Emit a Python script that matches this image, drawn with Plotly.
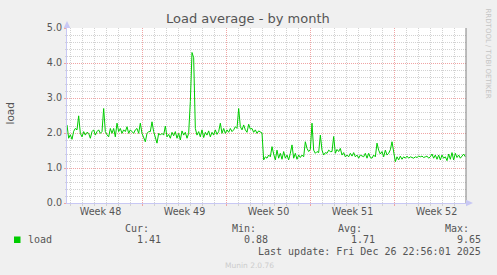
import plotly.graph_objects as go

# ---------------- data ----------------
series_name = "load"
start_time = "2025-11-24 17:00:00"
step_ms = 12_000_000  # 3h20m between samples
load_values = [
    2.23, 1.85, 1.95, 1.82, 2.05, 2.13, 2.09, 2.49, 1.99, 1.89,
    2.04, 1.94, 2.02, 1.99, 1.85, 2.04, 2.09, 1.94, 2.04, 2.09,
    1.99, 2.04, 2.70, 2.04, 1.95, 1.89, 2.13, 1.99, 2.13, 1.89,
    2.28, 2.04, 2.13, 1.99, 2.09, 2.04, 2.18, 1.99, 2.09, 2.04,
    1.99, 2.09, 2.13, 1.99, 2.28, 1.99, 1.89, 1.75, 1.99, 2.04,
    2.04, 2.32, 2.04, 1.85, 1.71, 1.99, 1.94, 1.99, 1.94, 2.20,
    1.89, 1.96, 1.85, 2.02, 1.92, 2.04, 1.85, 1.99, 1.80, 2.06,
    1.94, 2.02, 1.85, 1.99, 2.90, 4.30, 4.15, 2.13, 1.94, 2.04,
    1.89, 2.09, 1.87, 2.02, 1.94, 2.06, 1.89, 2.02, 1.94, 2.09,
    1.96, 2.04, 2.28, 1.99, 2.13, 1.99, 2.09, 2.02, 2.13, 2.04,
    2.09, 2.18, 2.13, 2.70, 2.18, 2.09, 2.23, 2.09, 2.02, 2.25,
    2.11, 2.13, 2.02, 2.09, 1.99, 2.06, 2.02, 2.00, 1.23, 1.32,
    1.28, 1.37, 1.32, 1.61, 1.40, 1.23, 1.51, 1.28, 1.42, 1.25,
    1.47, 1.28, 1.37, 1.23, 1.42, 1.66, 1.28, 1.42, 1.25, 1.37,
    1.30, 1.37, 1.32, 1.75, 1.56, 1.47, 1.53, 2.28, 1.51, 1.42,
    1.47, 1.44, 1.94, 1.51, 1.37, 1.44, 1.42, 1.51, 1.47, 1.47,
    1.90, 1.42, 1.53, 1.47, 1.56, 1.37, 1.44, 1.32, 1.37, 1.32,
    1.42, 1.34, 1.44, 1.32, 1.37, 1.28, 1.37, 1.35, 1.32, 1.42,
    1.28, 1.42, 1.30, 1.28, 1.37, 1.32, 1.71, 1.51, 1.40, 1.47,
    1.32, 1.51, 1.37, 1.42, 1.52, 1.75, 1.42, 1.18, 1.32, 1.23,
    1.34, 1.25, 1.32, 1.28, 1.34, 1.28, 1.32, 1.31, 1.28, 1.32,
    1.30, 1.34, 1.32, 1.34, 1.30, 1.32, 1.34, 1.28, 1.32, 1.40,
    1.28, 1.37, 1.25, 1.37, 1.23, 1.37, 1.28, 1.32, 1.21, 1.40,
    1.25, 1.44, 1.23, 1.42, 1.30, 1.37, 1.28, 1.34, 1.40, 1.32,
]
x_range = ["2025-11-24 17:00:00", "2025-12-27 23:00:00"]
week_start = "2025-11-24"
y_range = [0, 5]
stat_labels = ["Cur:", "Min:", "Avg:", "Max:"]
stat_values = ["1.41", "0.88", "1.71", "9.65"]
title_text = "Load average - by month"
y_title = "load"
last_update = "Last update: Fri Dec 26 22:56:01 2025"
side_text = "RRDTOOL / TOBI OETIKER"
footer_text = "Munin 2.0.76"

# ---------------- layout geometry ----------------
W, H = 497, 275
L, R, T, B = 67, 31, 28, 72
PW, PH = W - L - R, H - T - B


def px(x):
    return (x - L) / PW


def py(y):
    return (H - B - y) / PH


LINE_GREEN = "#00CC00"
AXIS_COL = "#C8C8F4"
MAJOR_GRID = "#F0A4A4"
MINOR_GRID = "#D2D2D2"
TEXT_COL = "#555555"
SANS = "DejaVu Sans"
MONO = "DejaVu Sans Mono"
DAY_MS = 86_400_000

fig = go.Figure()
fig.add_trace(go.Scatter(
    x0=start_time, dx=step_ms, y=load_values,
    mode="lines", name=series_name,
    line=dict(color=LINE_GREEN, width=1),
    showlegend=False, hoverinfo="skip",
))

fig.update_layout(
    width=W, height=H,
    margin=dict(l=L, r=R, t=T, b=B, pad=0),
    paper_bgcolor="#F0F0F0",
    plot_bgcolor="#FFFFFF",
    showlegend=False,
    xaxis=dict(
        type="date", range=x_range, autorange=False,
        tickmode="linear", tick0=week_start, dtick=7 * DAY_MS,
        ticklabelmode="period", tickformat="Week %V",
        showgrid=True, gridcolor=MAJOR_GRID, griddash="1px,1px", gridwidth=1,
        showline=True, linecolor=AXIS_COL, linewidth=1,
        ticks="outside", ticklen=2, tickcolor=MAJOR_GRID,
        ticklabelstandoff=-3,
        tickfont=dict(family=SANS, size=9.6, color=TEXT_COL),
        zeroline=False,
        minor=dict(tickmode="linear", tick0=week_start, dtick=DAY_MS,
                   showgrid=True, gridcolor=MINOR_GRID, griddash="1px,1px",
                   ticks="outside", ticklen=2, tickcolor=MINOR_GRID),
    ),
    yaxis=dict(
        range=y_range, autorange=False,
        tickmode="linear", tick0=0, dtick=1, tickformat=".1f",
        showgrid=True, gridcolor=MAJOR_GRID, griddash="1px,1px", gridwidth=1,
        showline=True, linecolor=AXIS_COL, linewidth=1,
        ticks="outside", ticklen=2, tickcolor=MAJOR_GRID,
        tickfont=dict(family=SANS, size=9.6, color=TEXT_COL),
        zeroline=False,
        minor=dict(tickmode="linear", tick0=0, dtick=0.2,
                   showgrid=True, gridcolor=MINOR_GRID, griddash="1px,1px",
                   ticks="outside", ticklen=1, tickcolor=MINOR_GRID),
    ),
)

shapes = []
# right border line
shapes.append(dict(type="line", xref="paper", yref="paper", x0=1, x1=1, y0=0, y1=1,
                   line=dict(color="#808080", width=1)))
# axis arrows
shapes.append(dict(type="path", xref="paper", yref="paper",
                   path=f"M {px(63.7)} {py(28)} L {px(67)} {py(21)} L {px(70.3)} {py(28)} Z",
                   fillcolor=AXIS_COL, line=dict(width=0)))
shapes.append(dict(type="path", xref="paper", yref="paper",
                   path=f"M {px(466)} {py(199.7)} L {px(473)} {py(203)} L {px(466)} {py(206.3)} Z",
                   fillcolor=AXIS_COL, line=dict(width=0)))
# legend swatch
shapes.append(dict(type="rect", xref="paper", yref="paper",
                   x0=px(14), x1=px(20.5), y0=py(236.5), y1=py(243),
                   fillcolor=LINE_GREEN, line=dict(width=0)))
fig.update_layout(shapes=shapes)

ann = []
ann.append(dict(text=title_text, x=px(248), y=py(18.5), xref="paper", yref="paper",
                xanchor="center", yanchor="middle", showarrow=False,
                font=dict(family=SANS, size=13, color=TEXT_COL)))
ann.append(dict(text=y_title, x=px(9.5), y=py(114), xref="paper", yref="paper",
                xanchor="center", yanchor="middle", showarrow=False, textangle=-90,
                font=dict(family=SANS, size=10.5, color=TEXT_COL)))
ann.append(dict(text=side_text, x=px(488), y=py(53.5), xref="paper", yref="paper",
                xanchor="center", yanchor="middle", showarrow=False, textangle=90,
                font=dict(family=SANS, size=7, color="#C4C4C4")))
ann.append(dict(text=series_name, x=px(26), y=py(239.5), xref="paper", yref="paper",
                xanchor="left", yanchor="middle", showarrow=False,
                font=dict(family=MONO, size=10, color=TEXT_COL)))
label_right = [151, 257.5, 364, 471]
value_right = [163, 270, 376.5, 483]
for lab, val, lx, vx in zip(stat_labels, stat_values, label_right, value_right):
    ann.append(dict(text=lab, x=px(lx), y=py(228), xref="paper", yref="paper",
                    xanchor="right", yanchor="middle", showarrow=False,
                    font=dict(family=MONO, size=10, color=TEXT_COL)))
    ann.append(dict(text=val, x=px(vx), y=py(239.5), xref="paper", yref="paper",
                    xanchor="right", yanchor="middle", showarrow=False,
                    font=dict(family=MONO, size=10, color=TEXT_COL)))
ann.append(dict(text=last_update, x=px(483), y=py(251), xref="paper", yref="paper",
                xanchor="right", yanchor="middle", showarrow=False,
                font=dict(family=MONO, size=10, color=TEXT_COL)))
ann.append(dict(text=footer_text, x=px(222.5), y=py(265), xref="paper", yref="paper",
                xanchor="left", yanchor="middle", showarrow=False,
                font=dict(family=SANS, size=7.5, color="#CCCCCC")))
fig.update_layout(annotations=ann)

fig.write_html("out.html", config={"displayModeBar": False})
